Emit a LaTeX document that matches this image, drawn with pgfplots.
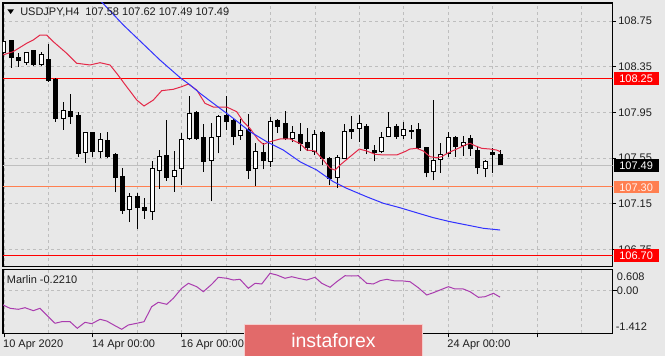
\documentclass[border=0pt]{standalone}
\usepackage{pgfplots}
\pgfplotsset{compat=1.18}
\usepackage{pgfplotstable}
\usepackage{fontspec}
\setmainfont{Liberation Sans}
\definecolor{bg}{RGB}{232,232,232}
\definecolor{gridc}{RGB}{190,190,190}
\definecolor{maRed}{RGB}{228,40,72}
\definecolor{maBlue}{RGB}{50,50,255}
\definecolor{marlin}{RGB}{170,60,175}
\definecolor{lvlCoral}{RGB}{255,127,80}
\definecolor{logoc}{RGB}{226,106,106}
\definecolor{logob}{RGB}{245,205,205}
\definecolor{txt}{RGB}{30,30,30}

\pgfplotstableread{
i O H L C
0 108.47 108.60 108.43 108.57
1 108.575 108.58 108.34 108.43
2 108.43 108.47 108.35 108.40
3 108.39 108.48 108.365 108.47
4 108.49 108.50 108.36 108.37
5 108.37 108.48 108.36 108.46
6 108.41 108.55 108.22 108.23
7 108.24 108.25 107.87 107.90
8 107.90 108.04 107.80 107.97
9 107.96 108.11 107.85 107.91
10 107.92 107.95 107.56 107.59
11 107.60 107.78 107.51 107.775
12 107.77 107.78 107.56 107.61
13 107.605 107.77 107.55 107.715
14 107.70 107.775 107.55 107.56
15 107.58 107.59 107.25 107.38
16 107.39 107.46 107.06 107.095
17 107.10 107.24 106.99 107.21
18 107.21 107.24 106.93 107.12
19 107.12 107.20 107.02 107.09
20 107.08 107.52 107.01 107.46
21 107.445 107.62 107.28 107.56
22 107.57 107.88 107.35 107.38
23 107.39 107.61 107.255 107.445
24 107.46 107.77 107.31 107.71
25 107.72 108.09 107.71 107.94
26 107.95 107.96 107.71 107.72
27 107.73 107.85 107.43 107.52
28 107.53 107.86 107.17 107.73
29 107.74 107.93 107.59 107.91
30 107.92 108.09 107.80 107.87
31 107.88 107.89 107.66 107.74
32 107.75 107.89 107.71 107.79
33 107.80 107.94 107.37 107.445
34 107.46 107.68 107.305 107.605
35 107.60 107.68 107.45 107.525
36 107.52 107.91 107.475 107.87
37 107.88 107.89 107.77 107.825
38 107.85 107.96 107.71 107.72
39 107.72 107.83 107.69 107.77
40 107.76 107.86 107.61 107.68
41 107.69 107.81 107.61 107.64
42 107.61 107.80 107.58 107.76
43 107.77 107.79 107.49 107.55
44 107.55 107.56 107.31 107.37
45 107.38 107.58 107.29 107.555
46 107.55 107.845 107.54 107.78
47 107.80 107.92 107.72 107.78
48 107.81 107.93 107.69 107.85
49 107.83 107.85 107.585 107.63
50 107.62 107.66 107.52 107.60
51 107.605 107.775 107.59 107.73
52 107.74 107.95 107.73 107.82
53 107.83 107.85 107.72 107.74
54 107.75 107.87 107.72 107.80
55 107.79 107.84 107.72 107.785
56 107.80 107.86 107.63 107.64
57 107.64 107.65 107.38 107.42
58 107.43 108.06 107.355 107.53
59 107.54 107.68 107.42 107.58
60 107.59 107.775 107.56 107.73
61 107.73 107.74 107.56 107.65
62 107.66 107.74 107.57 107.69
63 107.72 107.75 107.57 107.63
64 107.62 107.65 107.41 107.465
65 107.46 107.53 107.38 107.52
66 107.60 107.635 107.42 107.585
67 107.58 107.62 107.49 107.49
}\candles

\pgfplotstableread{
i p
-0.3 108.450
1.22 108.481
3.07 108.555
3.96 108.584
4.86 108.627
5.77 108.627
6.66 108.569
8.47 108.467
9.82 108.380
11.62 108.365
12.97 108.385
14.32 108.365
15.22 108.292
16.57 108.175
17.93 108.058
18.91 108.006
20.17 108.058
21.30 108.140
22.87 108.152
24.00 108.175
24.90 108.198
26.03 108.146
27.15 108.029
28.27 107.997
30.08 107.997
31.43 107.956
32.32 107.868
33.23 107.810
34.35 107.708
35.03 107.670
35.93 107.693
37.28 107.717
38.63 107.717
39.98 107.677
40.89 107.620
42.01 107.612
43.13 107.533
44.04 107.460
44.71 107.445
45.39 107.489
46.74 107.562
47.99 107.629
48.99 107.612
50.11 107.583
51.24 107.577
53.05 107.577
54.17 107.607
54.84 107.629
55.75 107.635
56.64 107.612
57.54 107.562
58.45 107.553
59.12 107.562
60.02 107.597
61.15 107.629
62.27 107.664
62.95 107.679
63.62 107.658
64.53 107.635
65.65 107.629
66.55 107.620
67.00 107.606
}\redma

\pgfplotstableread{
i p
12.56 108.960
16.12 108.715
21.07 108.408
23.77 108.255
25.13 108.190
26.48 108.117
28.27 108.029
30.97 107.898
33.23 107.781
35.49 107.693
37.73 107.620
39.98 107.518
42.24 107.445
44.48 107.343
46.29 107.285
48.99 107.211
51.24 107.154
53.49 107.115
55.75 107.071
57.99 107.028
60.25 106.993
62.50 106.964
64.74 106.935
67.00 106.920
}\bluema

\pgfplotstableread{
i v
-0.3 -0.46
0.81 -0.593
1.93 -0.627
2.84 -0.573
3.96 -0.673
4.86 -0.593
5.98 -0.873
6.89 -1.093
7.79 -1.04
8.92 -1.04
9.90 -1.26
10.94 -1.06
11.85 -1.107
12.97 -0.96
13.87 -1.017
14.99 -1.173
15.90 -1.293
16.79 -1.15
17.93 -1.093
18.91 -1.04
19.95 -0.54
20.84 -0.393
21.98 -0.46
22.87 -0.26
24.00 0.073
24.90 0.24
26.03 0.127
26.92 -0.04
28.06 0.207
28.95 0.44
30.08 0.407
30.97 0.35
31.88 0.373
33.00 0.073
33.91 0.24
34.81 0.217
35.93 0.573
36.84 0.517
37.96 0.407
38.86 0.46
39.75 0.407
40.89 0.35
42.01 0.44
42.92 0.24
44.04 0.107
44.94 0.293
46.06 0.493
46.97 0.483
47.86 0.493
48.99 0.24
49.89 0.217
50.79 0.327
51.70 0.373
52.82 0.317
53.94 0.317
54.84 0.293
55.96 0.093
57.10 -0.15
57.99 -0.073
58.90 0.017
60.02 0.127
60.92 0.05
62.04 0.05
62.95 -0.04
64.07 -0.227
64.97 -0.207
66.10 -0.093
67.00 -0.221
}\marlindata

\begin{document}
\begin{tikzpicture}
\useasboundingbox (0,0) rectangle (498.75pt,-267pt);
\fill[bg] (0,0) rectangle (498.75pt,-267pt);

% ---------------- main price panel ----------------
\begin{axis}[
  at={(2.25pt,-2.25pt)}, anchor=north west,
  scale only axis, width=457.3pt, height=197.8pt,
  xmin=-0.135, xmax=82.22, ymin=106.5985, ymax=108.9076,
  axis line style={black, line width=0.8pt},
  xtick={0,6,...,78}, xticklabels={}, xtick style={draw=none},
  ytick={106.75,107.15,107.55,107.95,108.35,108.75},
  yticklabels={106.75,107.15,107.55,107.95,108.35,108.75},
  ytick pos=right, tick align=outside, major tick length=2.5pt,
  ytick style={black, line width=0.6pt},
  yticklabel style={font=\fontsize{8.25}{10}\selectfont, text=txt, anchor=west, inner xsep=1.5pt},
  grid=major, grid style={gridc, dash pattern=on 2.25pt off 2.25pt, line width=0.6pt},
  candle/.style={draw=none, mark=none, forget plot, error bars/.cd, y dir=plus, y explicit, error mark=none},
]
% horizontal levels
\addplot[red, line width=0.75pt] coordinates {(-1,108.25) (90,108.25)};
\addplot[red, line width=0.75pt] coordinates {(-1,106.70) (90,106.70)};
\addplot[lvlCoral, line width=0.75pt] coordinates {(-1,107.30) (90,107.30)};
\addplot[black!25, line width=0.6pt] coordinates {(-1,107.49) (90,107.49)};
% wicks
\addplot[candle, error bar style={draw=black, solid, line width=0.75pt}]
  table[x=i, y=L, y error expr=\thisrow{H}-\thisrow{L}] {\candles};
% body outlines (black)
\addplot[candle, error bar style={draw=black, solid, line width=3.75pt}]
  table[x=i, y expr={min(\thisrow{O},\thisrow{C})-0.0044}, y error expr={abs(\thisrow{C}-\thisrow{O})+0.0088}] {\candles};
% bullish bodies (white interior)
\addplot[restrict expr to domain={\thisrow{C}-\thisrow{O}}{0.0095:10}, candle,
  error bar style={draw=white, solid, line width=2.25pt}]
  table[x=i, y expr={\thisrow{O}+0.0044}, y error expr={\thisrow{C}-\thisrow{O}-0.0088}] {\candles};
% moving averages
\addplot[maRed, line width=0.75pt, no markers] table[x=i, y=p] {\redma};
\addplot[maBlue, line width=0.75pt, no markers] table[x=i, y=p] {\bluema};
\end{axis}

% ---------------- indicator panel ----------------
\begin{axis}[
  at={(2.25pt,-201.975pt)}, anchor=north west,
  scale only axis, width=457.3pt, height=48pt,
  xmin=-0.135, xmax=82.22, ymin=-1.4267, ymax=0.7067,
  axis line style={black, line width=0.8pt},
  xtick={0,12,...,72}, minor xtick={6,18,...,78},
  xticklabels={10 Apr 2020,14 Apr 00:00,16 Apr 00:00,20 Apr 00:00,22 Apr 00:00,24 Apr 00:00,},
  xtick pos=left, ytick pos=right, tick align=outside,
  major tick length=3pt, minor tick length=0pt,
  xtick style={black, line width=0.6pt},
  ytick style={black, line width=0.6pt},
  xticklabel style={font=\fontsize{8.25}{10}\selectfont, text=txt, anchor=north west, inner xsep=0pt, inner ysep=2pt, xshift=-0.8pt},
  ytick={0}, yticklabels={},
  grid=both, grid style={gridc, dash pattern=on 2.25pt off 2.25pt, line width=0.6pt},
  minor grid style={gridc, dash pattern=on 2.25pt off 2.25pt, line width=0.6pt},
]
\addplot[marlin, line width=0.75pt, no markers] table[x=i, y=v] {\marlindata};
\end{axis}

% ---------------- annotations (pixel coordinates) ----------------
\begin{scope}[x=0.75pt, y=-0.75pt, font=\fontsize{8.25}{10}\selectfont]
  \fill[black] (7.3,9.3) -- (14,9.3) -- (10.65,14) -- cycle;
  \node[anchor=west, inner sep=0, text=txt] at (20,12) {USDJPY,H4\ \ 107.58 107.62 107.49 107.49};
  \node[anchor=west, inner sep=0, text=txt] at (6.7,280) {Marlin -0.2210};
  \node[anchor=west, inner sep=0, text=txt] at (616.7,277) {0.608};
  \node[anchor=west, inner sep=0, text=txt] at (616.7,290.5) {0.00};
  \node[anchor=west, inner sep=0, text=txt] at (615.5,327) {-1.412};
  % level price boxes
  \fill[red] (614,72) rectangle (659.3,85);
  \node[anchor=west, inner sep=0, text=white] at (619,78.5) {108.25};
  \fill[black] (614,159.3) rectangle (659.3,171.7);
  \node[anchor=west, inner sep=0, text=white] at (619,165.5) {107.49};
  \fill[lvlCoral] (614,181.3) rectangle (659.3,193.3);
  \node[anchor=west, inner sep=0, text=white!90!lvlCoral] at (619,187.3) {107.30};
  \fill[red] (614,249.3) rectangle (659.3,261.7);
  \node[anchor=west, inner sep=0, text=white] at (619,255.5) {106.70};
  % logo
  \draw[fill=logoc, draw=logob, line width=0.75pt] (244.5,325) rectangle (422.5,358);
  \node[text=white, inner sep=0, font=\fontsize{14.6}{16}\selectfont] at (333.5,341) {instaforex};
\end{scope}
\end{tikzpicture}
\end{document}
